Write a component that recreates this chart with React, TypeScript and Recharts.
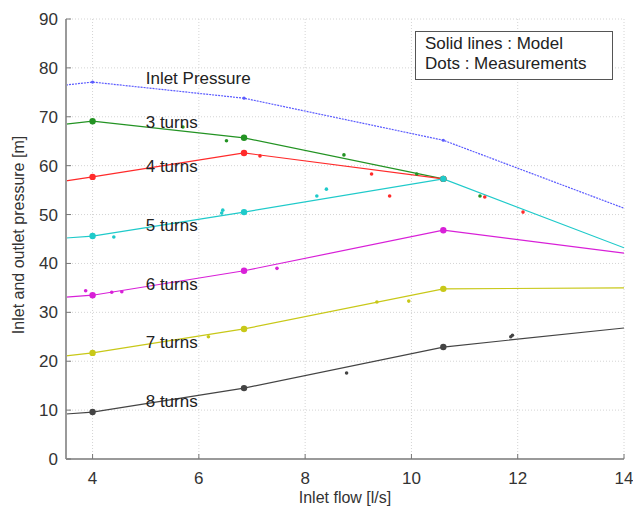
import React from 'react';
import {
  ComposedChart, Line, Scatter, XAxis, YAxis, CartesianGrid, ReferenceDot,
} from 'recharts';

// model knots (inlet flow, l/s)
const flow = [3.5, 4, 6.85, 10.6, 14];
const markFlow = [4, 6.85, 10.6];

// model curves (m)
const inletModel = [76.5, 77.1, 73.8, 65.2, 51.3];
const turns3Model = [68.5, 69.1, 65.7, 57.3];
const turns4Model = [56.9, 57.7, 62.6, 57.3];
const turns5Model = [45.2, 45.6, 50.5, 57.3, 43.2];
const turns6Model = [33.1, 33.5, 38.5, 46.8, 42.1];
const turns7Model = [21.1, 21.7, 26.6, 34.8, 35.0];
const turns8Model = [9.2, 9.6, 14.5, 22.9, 26.8];

// measurements
const turns3Meas = [[5.7, 67.9], [6.52, 65.1], [8.73, 62.2], [10.1, 58.3], [11.29, 53.8]];
const turns4Meas = [[7.15, 62.0], [9.25, 58.3], [9.59, 53.8], [11.38, 53.6], [12.1, 50.5]];
const turns5Meas = [[4.4, 45.4], [6.43, 50.3], [6.45, 50.9], [8.22, 53.8], [8.4, 55.2]];
const turns6Meas = [[3.87, 34.4], [4.36, 34.1], [4.55, 34.2], [7.47, 39.0]];
const turns7Meas = [[6.18, 25.0], [9.35, 32.1], [9.95, 32.3]];
const turns8Meas = [[8.78, 17.6], [11.87, 25.0], [11.9, 25.3]];

const xTicks = [4, 6, 8, 10, 12, 14];
const yTicks = [0, 10, 20, 30, 40, 50, 60, 70, 80, 90];

const series = [
  { name: 'Inlet Pressure', model: inletModel, meas: [] as number[][], color: '#5b5bff', labelY: 77.9, dash: '2 1', big: false },
  { name: '3 turns', model: turns3Model, meas: turns3Meas, color: '#239323', labelY: 68.9, dash: undefined, big: true },
  { name: '4  turns', model: turns4Model, meas: turns4Meas, color: '#ff2a2a', labelY: 59.9, dash: undefined, big: true },
  { name: '5  turns', model: turns5Model, meas: turns5Meas, color: '#1fcaca', labelY: 47.9, dash: undefined, big: true },
  { name: '6  turns', model: turns6Model, meas: turns6Meas, color: '#d820d8', labelY: 35.8, dash: undefined, big: true },
  { name: '7  turns', model: turns7Model, meas: turns7Meas, color: '#c8c818', labelY: 23.9, dash: undefined, big: true },
  { name: '8  turns', model: turns8Model, meas: turns8Meas, color: '#444444', labelY: 11.9, dash: undefined, big: true },
];

const FONT = '"Liberation Sans", Arial, sans-serif';

const BottomTick = (p: any) => (
  <g>
    <line x1={p.x} y1={p.y} x2={p.x} y2={p.y - 5} stroke="#777" />
    <text x={p.x} y={p.y + 25} textAnchor="middle" fontSize={17} fill="#333" fontFamily={FONT}>
      {p.payload.value}
    </text>
  </g>
);
const LeftTick = (p: any) => (
  <g>
    <line x1={p.x} y1={p.y} x2={p.x + 5} y2={p.y} stroke="#777" />
    <text x={p.x - 8} y={p.y + 6} textAnchor="end" fontSize={17} fill="#333" fontFamily={FONT}>
      {p.payload.value}
    </text>
  </g>
);
const TopTick = (p: any) => <line x1={p.x} y1={p.y} x2={p.x} y2={p.y + 5} stroke="#777" />;
const RightTick = (p: any) => <line x1={p.x} y1={p.y} x2={p.x - 5} y2={p.y} stroke="#777" />;

export default function App() {
  return (
    <div style={{ position: 'absolute', left: 0, top: 0, width: 633, height: 511, background: '#fff', fontFamily: FONT }}>
      <ComposedChart width={633} height={511} margin={{ top: 19, right: 9, left: 0, bottom: 0 }}>
        <CartesianGrid stroke="#d4d4d4" strokeDasharray="1 2" />
        <XAxis dataKey="x" type="number" domain={[3.5, 14]} ticks={xTicks} height={52}
          tickSize={0} tickMargin={0} tick={<BottomTick />} axisLine={{ stroke: '#9a9a9a', strokeWidth: 2 }}
          allowDataOverflow />
        <XAxis xAxisId="t" orientation="top" dataKey="x" type="number" domain={[3.5, 14]} ticks={xTicks} height={0}
          tickSize={0} tickMargin={0} tick={<TopTick />} axisLine={{ stroke: '#9a9a9a', strokeWidth: 1.5 }} />
        <YAxis dataKey="y" type="number" domain={[0, 90]} ticks={yTicks} width={66}
          tickSize={0} tickMargin={0} tick={<LeftTick />} axisLine={{ stroke: '#9a9a9a', strokeWidth: 2 }} />
        <YAxis yAxisId="r" orientation="right" type="number" domain={[0, 90]} ticks={yTicks} width={0}
          tickSize={0} tickMargin={0} tick={<RightTick />} axisLine={{ stroke: '#8a8a8a', strokeWidth: 1.5 }} />

        {series.map((s) => (
          <Line key={'l' + s.name} data={s.model.map((y, i) => ({ x: flow[i], y }))} dataKey="y"
            stroke={s.color} strokeWidth={1.2} strokeDasharray={s.dash} dot={false}
            isAnimationActive={false} type="linear" />
        ))}
        {series.map((s) => (
          <Scatter key={'k' + s.name}
            data={s.model.map((y, i) => ({ x: flow[i], y })).filter((d) => markFlow.includes(d.x))}
            fill={s.color} isAnimationActive={false}
            shape={(p: any) => <circle cx={p.cx} cy={p.cy} r={s.big ? 3.2 : 1.6} fill={s.color} />} />
        ))}
        {series.map((s) => (
          <Scatter key={'m' + s.name} data={s.meas.map(([x, y]) => ({ x, y }))}
            fill={s.color} isAnimationActive={false}
            shape={(p: any) => <circle cx={p.cx} cy={p.cy} r={1.8} fill={s.color} />} />
        ))}
        {series.map((s) => (
          <ReferenceDot key={'t' + s.name} x={5} y={s.labelY} r={0}
            shape={(p: any) => (
              <text x={p.cx} y={p.cy + 6} fontSize={17} fill="#222" fontFamily={FONT}>{s.name}</text>
            )} />
        ))}
        <text x={345} y={503} textAnchor="middle" fontSize={16} fill="#333" fontFamily={FONT}>Inlet flow [l/s]</text>
        <text x={24} y={235} transform="rotate(-90 24 235)" textAnchor="middle" fontSize={16} fill="#333" fontFamily={FONT}>
          Inlet and outlet pressure [m]
        </text>
      </ComposedChart>
      <div style={{
        position: 'absolute', left: 415, top: 31, width: 198, height: 49, border: '1px solid #555',
        background: '#fff', boxSizing: 'border-box', padding: '2px 0 0 9px', fontSize: 17, lineHeight: '20px', color: '#222',
      }}>
        <div>Solid lines : Model</div>
        <div>Dots : Measurements</div>
      </div>
    </div>
  );
}
